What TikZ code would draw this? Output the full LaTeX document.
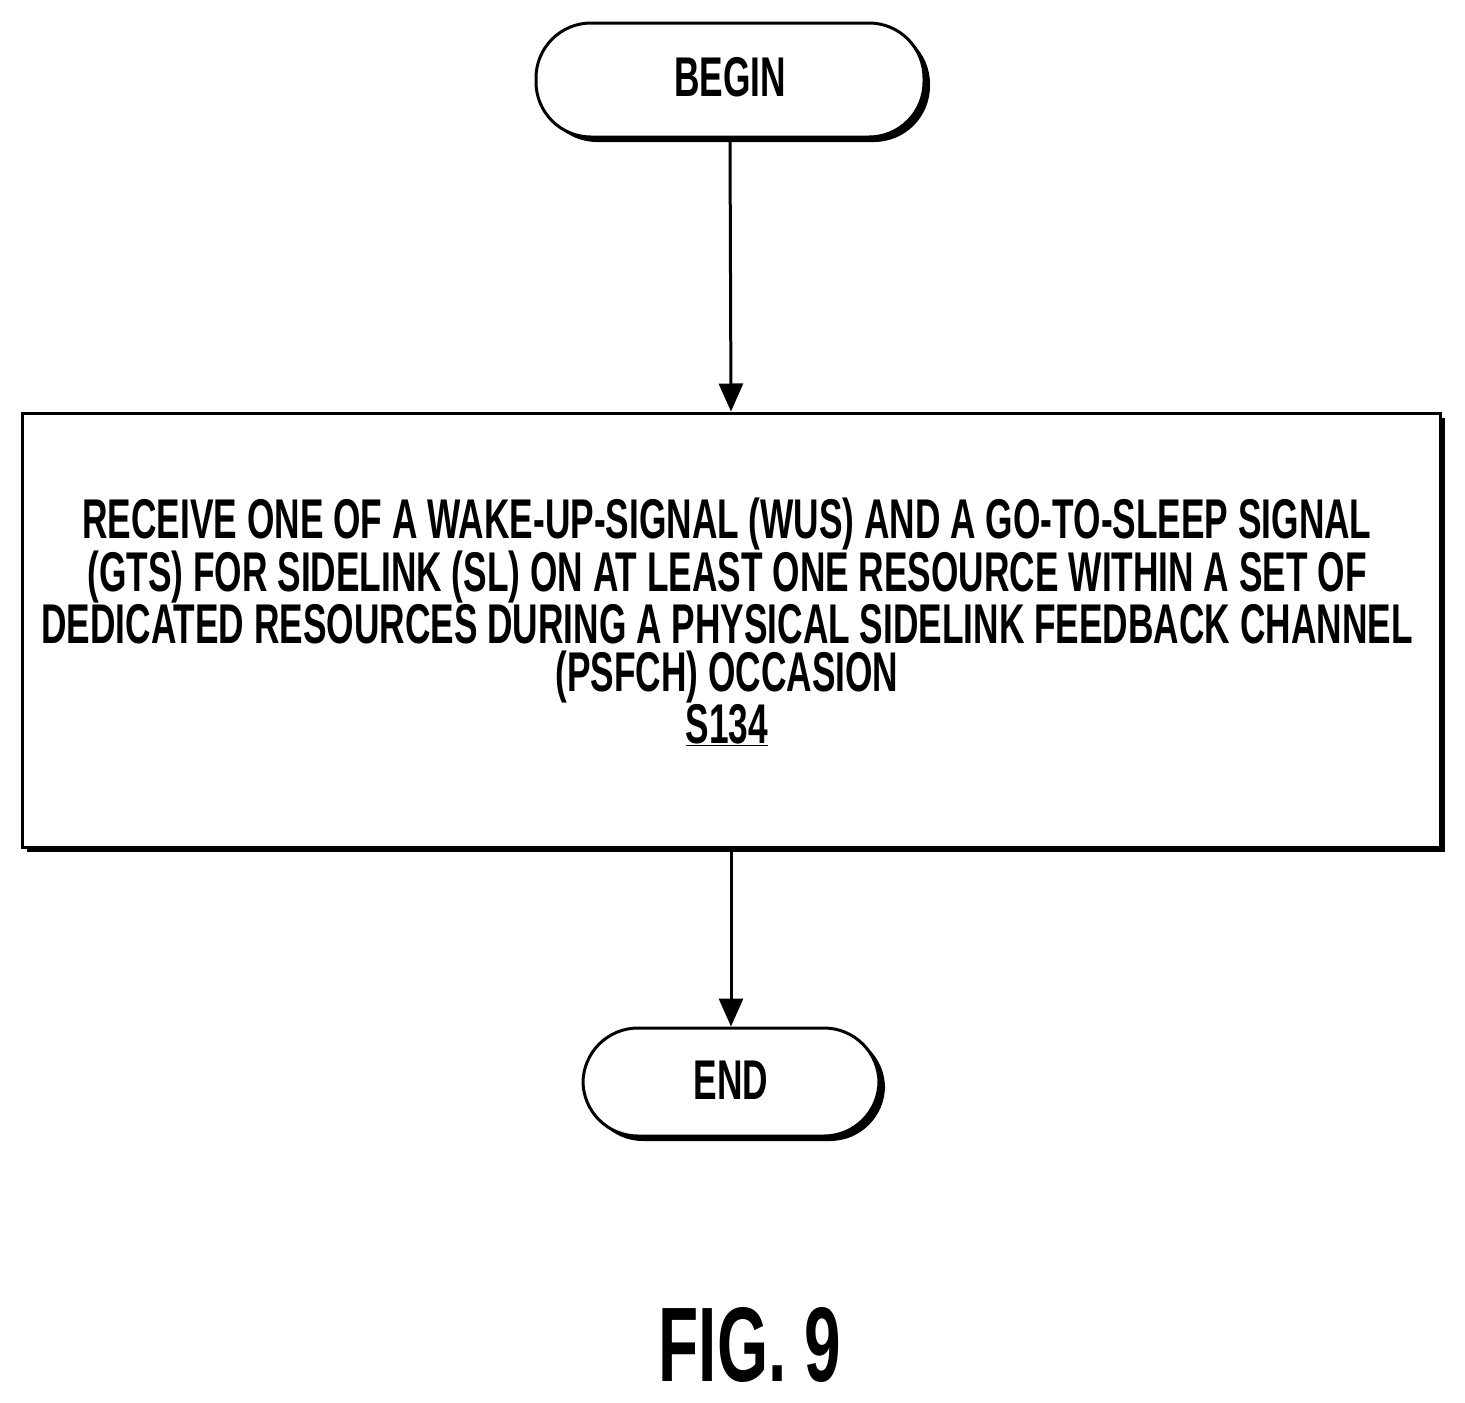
\documentclass[tikz,border=0pt]{standalone}
\usepackage{fontspec}
\newfontfamily\cond{Liberation Sans}[FakeStretch=0.63]
\newfontfamily\condb{Liberation Sans}[FakeStretch=0.62]
\usetikzlibrary{arrows.meta}
\begin{document}
\begin{tikzpicture}[x=1pt,y=-1pt,
  line width=3pt,
  every node/.style={font=\cond\bfseries\fontsize{56}{48}\selectfont},
  term/.style={draw,fill=white,rounded corners=55pt,inner sep=0pt},
  arr/.style={-{Triangle[length=28pt,width=24pt]}}]
\useasboundingbox (0,0) rectangle (1465,1403);
% BEGIN
\fill (541,28) [rounded corners=56pt] rectangle (930,142);
\node[term,minimum width=388pt,minimum height=114pt] (begin) at (730,80) {};
\node at (730,77) {BEGIN};
% Box
\fill (27,418) rectangle (1445,852);
\node[draw,fill=white,minimum width=1418pt,minimum height=434pt,inner sep=0pt] (box) at (731,630) {};
\node[align=center] at (727,622) {RECEIVE ONE OF A WAKE-UP-SIGNAL (WUS) AND A GO-TO-SLEEP SIGNAL\\(GTS) FOR SIDELINK (SL) ON AT LEAST ONE RESOURCE WITHIN A SET OF\\DEDICATED RESOURCES DURING A PHYSICAL SIDELINK FEEDBACK CHANNEL\\(PSFCH) OCCASION\\\underline{S134}};
% END
\fill (588,1033) [rounded corners=55pt] rectangle (885,1141);
\node[term,minimum width=296pt,minimum height=108pt] (end) at (731,1082) {};
\node at (731,1080) {END};
\draw[arr] (begin.south) -- (box.north);
\draw[arr] (box.south) -- (end.north);
\node[font=\condb\bfseries\fontsize{106}{106}\selectfont] (fig) at (750,1345) {FIG. 9};
\end{tikzpicture}
\end{document}
